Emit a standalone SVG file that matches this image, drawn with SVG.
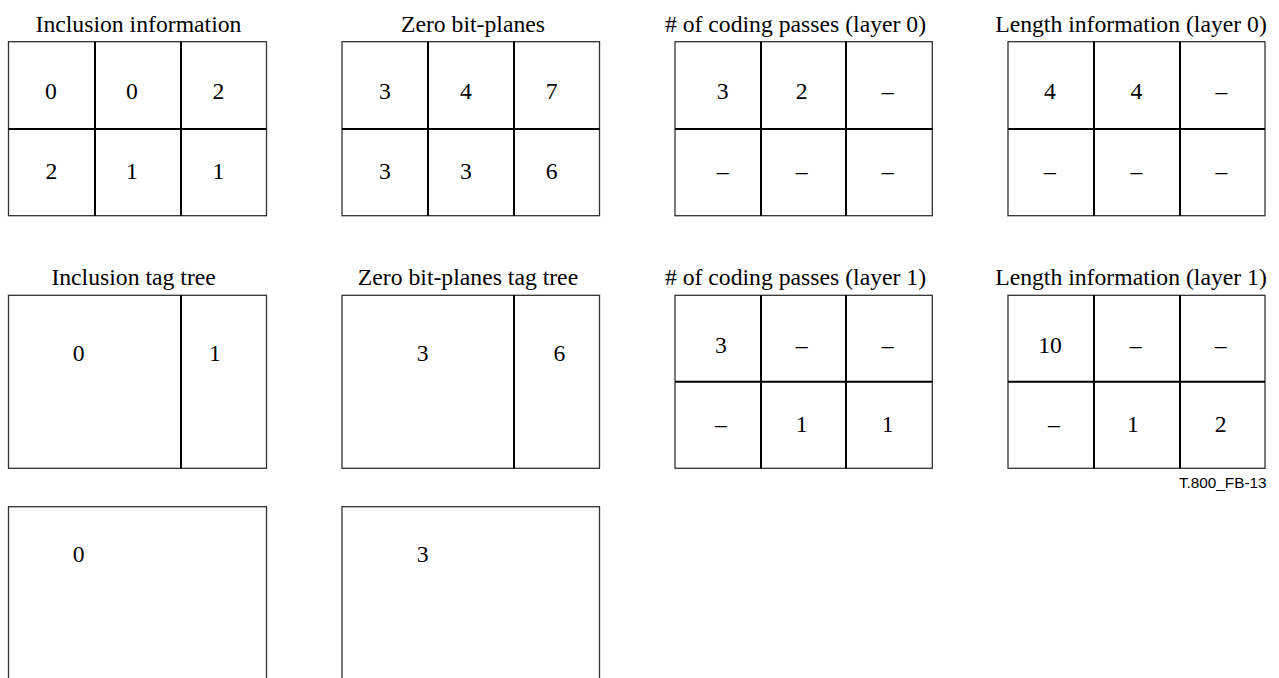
<svg xmlns="http://www.w3.org/2000/svg" width="1279" height="678" viewBox="0 0 1279 678">
<style>
.bg{fill:#fff}
.box{fill:none;stroke:#333;stroke-width:1.3}
.div{stroke:#000;stroke-width:2;fill:none}
.t,.n{font-family:'Liberation Serif',Tinos,'Times New Roman',Times,'Nimbus Roman','Nimbus Roman No9 L','DejaVu Serif',serif;font-size:23.7px;fill:#000;text-anchor:middle}
.code{font-family:'Liberation Sans',Arimo,Arial,sans-serif;font-size:15.3px;fill:#000;text-anchor:end}
</style>
<rect class="bg" x="0" y="0" width="1279" height="678"/>

<g id="inclusion-information">
<text class="t" x="138.5" y="32">Inclusion information</text>
<rect class="box" x="8.5" y="41.7" width="258" height="174"/>
<line class="div" x1="95" y1="41.7" x2="95" y2="215.7"/>
<line class="div" x1="181" y1="41.7" x2="181" y2="215.7"/>
<line class="div" x1="8.5" y1="129" x2="266.5" y2="129"/>
<text class="n" x="51" y="99">0</text>
<text class="n" x="132" y="99">0</text>
<text class="n" x="218.5" y="99">2</text>
<text class="n" x="51.5" y="179">2</text>
<text class="n" x="132" y="179">1</text>
<text class="n" x="218.5" y="179">1</text>
</g>

<g id="zero-bit-planes">
<text class="t" x="473" y="32">Zero bit-planes</text>
<rect class="box" x="342" y="41.7" width="257.5" height="174"/>
<line class="div" x1="428" y1="41.7" x2="428" y2="215.7"/>
<line class="div" x1="514" y1="41.7" x2="514" y2="215.7"/>
<line class="div" x1="342" y1="129" x2="599.5" y2="129"/>
<text class="n" x="385" y="99">3</text>
<text class="n" x="466" y="99">4</text>
<text class="n" x="551.7" y="99">7</text>
<text class="n" x="385" y="179">3</text>
<text class="n" x="466" y="179">3</text>
<text class="n" x="551.7" y="179">6</text>
</g>

<g id="coding-passes-layer0">
<text class="t" x="795.5" y="32"># of coding passes (layer 0)</text>
<rect class="box" x="675" y="41.7" width="257.3" height="174"/>
<line class="div" x1="761" y1="41.7" x2="761" y2="215.7"/>
<line class="div" x1="846" y1="41.7" x2="846" y2="215.7"/>
<line class="div" x1="675" y1="129" x2="932.3" y2="129"/>
<text class="n" x="722.7" y="99">3</text>
<text class="n" x="801.7" y="99">2</text>
<text class="n" x="887.7" y="99">–</text>
<text class="n" x="722.7" y="179">–</text>
<text class="n" x="801.7" y="179">–</text>
<text class="n" x="887.7" y="179">–</text>
</g>

<g id="length-layer0">
<text class="t" x="1131" y="32">Length information (layer 0)</text>
<rect class="box" x="1008" y="41.7" width="257" height="174"/>
<line class="div" x1="1094" y1="41.7" x2="1094" y2="215.7"/>
<line class="div" x1="1180" y1="41.7" x2="1180" y2="215.7"/>
<line class="div" x1="1008" y1="129" x2="1265" y2="129"/>
<text class="n" x="1050" y="99">4</text>
<text class="n" x="1136.5" y="99">4</text>
<text class="n" x="1221.5" y="99">–</text>
<text class="n" x="1050" y="179">–</text>
<text class="n" x="1136.5" y="179">–</text>
<text class="n" x="1221.5" y="179">–</text>
</g>

<g id="inclusion-tag-tree">
<text class="t" x="133.6" y="285">Inclusion tag tree</text>
<rect class="box" x="8.5" y="295.3" width="258" height="173"/>
<line class="div" x1="181" y1="295.3" x2="181" y2="468.3"/>
<text class="n" x="78.7" y="361">0</text>
<text class="n" x="215" y="361">1</text>
</g>

<g id="zero-bit-planes-tag-tree">
<text class="t" x="468" y="285">Zero bit-planes tag tree</text>
<rect class="box" x="342" y="295.3" width="257.5" height="173"/>
<line class="div" x1="514" y1="295.3" x2="514" y2="468.3"/>
<text class="n" x="422.7" y="361">3</text>
<text class="n" x="559.3" y="361">6</text>
</g>

<g id="coding-passes-layer1">
<text class="t" x="795.5" y="285"># of coding passes (layer 1)</text>
<rect class="box" x="675" y="295.3" width="257.3" height="173"/>
<line class="div" x1="761" y1="295.3" x2="761" y2="468.3"/>
<line class="div" x1="846" y1="295.3" x2="846" y2="468.3"/>
<line class="div" x1="675" y1="381.7" x2="932.3" y2="381.7"/>
<text class="n" x="721" y="352.7">3</text>
<text class="n" x="801.7" y="352.7">–</text>
<text class="n" x="887.7" y="352.7">–</text>
<text class="n" x="721" y="431.7">–</text>
<text class="n" x="801.7" y="431.7">1</text>
<text class="n" x="887.7" y="431.7">1</text>
</g>

<g id="length-layer1">
<text class="t" x="1131" y="285">Length information (layer 1)</text>
<rect class="box" x="1008" y="295.3" width="257" height="173"/>
<line class="div" x1="1094" y1="295.3" x2="1094" y2="468.3"/>
<line class="div" x1="1180" y1="295.3" x2="1180" y2="468.3"/>
<line class="div" x1="1008" y1="381.7" x2="1265" y2="381.7"/>
<text class="n" x="1050" y="352.7">10</text>
<text class="n" x="1135.7" y="352.7">–</text>
<text class="n" x="1220.7" y="352.7">–</text>
<text class="n" x="1054" y="431.7">–</text>
<text class="n" x="1133" y="431.7">1</text>
<text class="n" x="1220.7" y="431.7">2</text>
</g>

<g id="inclusion-tag-tree-root">
<rect class="box" x="8.5" y="506.7" width="258" height="190"/>
<text class="n" x="78.7" y="561.5">0</text>
</g>

<g id="zero-bit-planes-tag-tree-root">
<rect class="box" x="342" y="506.7" width="257.5" height="190"/>
<text class="n" x="422.7" y="561.5">3</text>
</g>

<g id="connectors"></g>

<text class="code" x="1266.5" y="487.7">T.800_FB-13</text>
</svg>
